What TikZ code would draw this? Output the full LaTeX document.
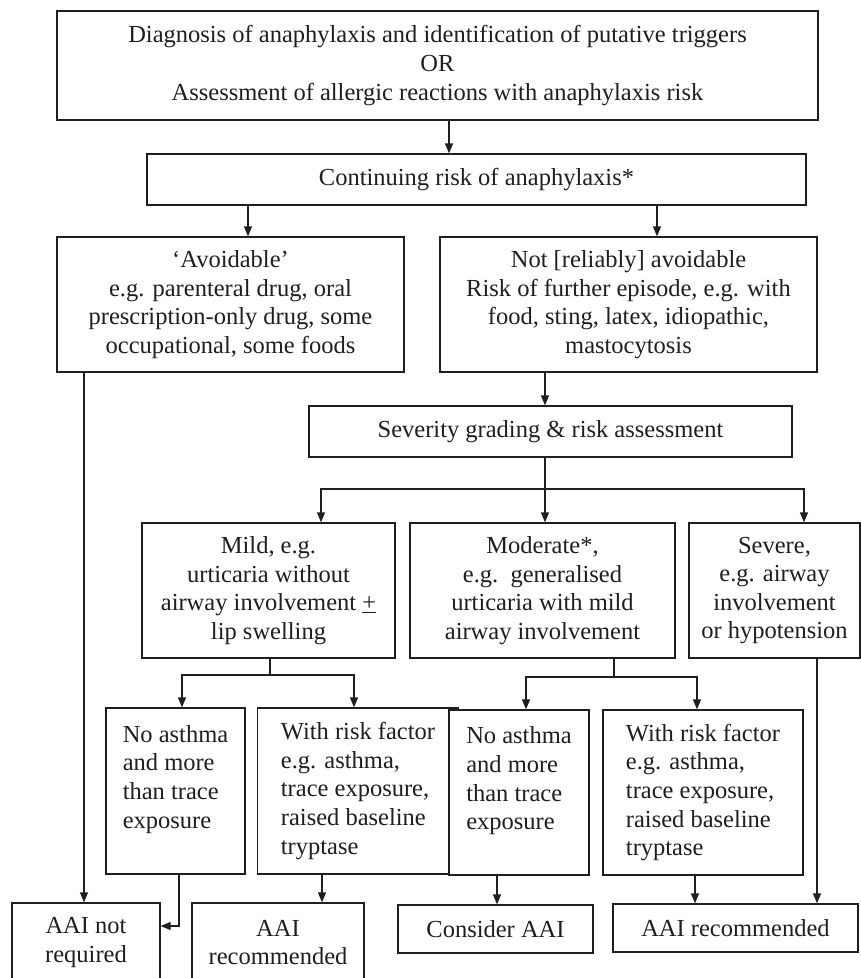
\documentclass[tikz,border=0pt]{standalone}
\usepackage{fontspec}
\setmainfont{Liberation Serif}
\usetikzlibrary{arrows.meta}
\begin{document}
\begin{tikzpicture}[x=1pt,y=-1pt,
  box/.style={draw=black!88, fill=white, line width=1.3pt, inner sep=0pt, align=center,
    font=\fontsize{24.5}{28.6}\selectfont, text=black!88},
  lbox/.style={box, align=left},
  arr/.style={draw=black!88, line width=1.3pt, -{Triangle[length=10pt,width=8pt]}},
  ln/.style={draw=black!88, line width=1.3pt}]
\useasboundingbox (0,0) rectangle (861,978);
% boxes
\node[box, minimum width=761pt, minimum height=109pt] (top) at (437.5,65.5)
  {Diagnosis of anaphylaxis and identification of putative triggers\\OR\\Assessment of allergic reactions with anaphylaxis risk};
\node[box, minimum width=659pt, minimum height=51pt] (cont) at (476.5,179.5) {Continuing risk of anaphylaxis*};
\node[box, minimum width=347pt, minimum height=135pt] (avoid) at (230.5,304.5)
  {‘Avoidable’\\e.g. parenteral drug, oral\\prescription-only drug, some\\occupational, some foods};
\node[box, minimum width=377pt, minimum height=135pt] (notav) at (628.5,304.5)
  {Not [reliably] avoidable\\Risk of further episode, e.g. with\\food, sting, latex, idiopathic,\\mastocytosis};
\node[box, minimum width=483pt, minimum height=51pt] (sev) at (550.5,431.5) {Severity grading \& risk assessment};
\node[box, minimum width=253pt, minimum height=135pt] (mild) at (268.5,590.5)
  {Mild, e.g.\\urticaria without\\airway involvement \underline{+}\\lip swelling};
\node[box, minimum width=265pt, minimum height=135pt] (mod) at (542.5,590.5)
  {Moderate*,\\e.g.\ \ generalised\\urticaria with mild\\airway involvement};
\node[box, minimum width=171pt, minimum height=135pt] (severe) at (774.5,590.5)
  {Severe,\\e.g. airway\\involvement\\or hypotension};
\node[lbox, minimum width=139pt, minimum height=166pt] (na1) at (175.5,791)
  {No asthma\\and more\\than trace\\exposure\\\mbox{}};
\node[lbox, minimum width=201pt, minimum height=166pt] (wr1) at (358,791)
  {With risk factor\\e.g. asthma,\\trace exposure,\\raised baseline\\tryptase};
\node[lbox, minimum width=140pt, minimum height=165pt] (na2) at (519,792.5)
  {No asthma\\and more\\than trace\\exposure\\\mbox{}};
\node[lbox, minimum width=200pt, minimum height=165pt] (wr2) at (703,792.5)
  {With risk factor\\e.g. asthma,\\trace exposure,\\raised baseline\\tryptase};
\node[box, minimum width=148pt, minimum height=79pt] (aainot) at (86,942.5) {AAI not\\required};
\node[box, minimum width=172pt, minimum height=79pt] (rec1) at (278,942.5) {AAI\\recommended};
\node[box, minimum width=195pt, minimum height=48pt] (cons) at (495.5,929) {Consider AAI};
\node[box, minimum width=245pt, minimum height=48pt] (rec2) at (735.5,928) {AAI recommended};
% junctions
\coordinate (bj) at (545,489);
\coordinate (mj) at (270,675);
\coordinate (dj) at (614,677);
% connectors
\draw[arr] (top.south -| 449,0) -- (cont.north -| 449,0);
\draw[arr] (cont.south -| 248,0) -- (avoid.north -| 248,0);
\draw[arr] (cont.south -| 657,0) -- (notav.north -| 657,0);
\draw[arr] (notav.south -| 545,0) -- (sev.north -| 545,0);
\draw[ln] (sev.south -| bj) -- (bj);
\draw[arr] (bj) -| (mild.north -| 321,0);
\draw[arr] (bj) -- (mod.north -| bj);
\draw[arr] (bj) -| (severe.north -| 804,0);
\draw[ln] (mild.south -| mj) -- (mj);
\draw[arr] (mj) -| (na1.north -| 182,0);
\draw[arr] (mj) -| (wr1.north -| 354,0);
\draw[ln] (mod.south -| dj) -- (dj);
\draw[arr] (dj) -| (na2.north -| 526,0);
\draw[arr] (dj) -| (wr2.north -| 697,0);
\draw[arr] (avoid.south -| 84,0) -- (aainot.north -| 84,0);
\draw[arr] (na1.south -| 179,0) |- (aainot.east |- 0,926);
\draw[arr] (wr1.south -| 322,0) -- (rec1.north -| 322,0);
\draw[arr] (na2.south -| 497,0) -- (cons.north -| 497,0);
\draw[arr] (wr2.south -| 695,0) -- (rec2.north -| 695,0);
\draw[arr] (severe.south -| 817,0) -- (rec2.north -| 817,0);
\end{tikzpicture}
\end{document}
